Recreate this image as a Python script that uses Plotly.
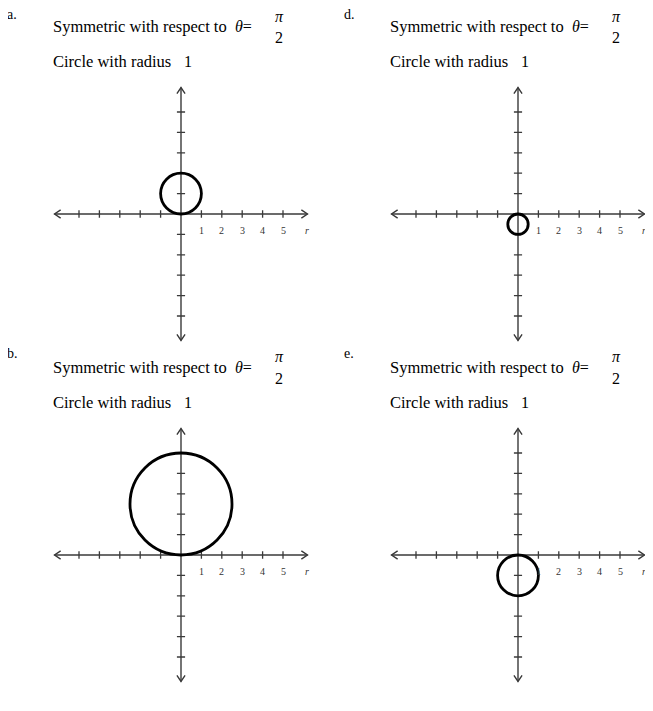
import plotly.graph_objects as go

# ---- data ----
panel_letters = ["a.", "d.", "b.", "e."]
# polar equations r = k * sin(theta) -> circles through the pole
sin_coefficients = [2, -1, 5, -2]
symmetry_text = "Symmetric with respect to"
radius_text = "Circle with radius"
radius_values = ["1", "1", "1", "1"]
tick_values = [-5, -4, -3, -2, -1, 1, 2, 3, 4, 5]
tick_labels_x = ["1", "2", "3", "4", "5"]
tick_label_pos = [1, 2, 3, 4, 5]
axis_extent = 6.2

# ---- layout geometry (pixels, page coords; page has an 8px body margin) ----
PAGE_OFF = 8
W, H = 653 - PAGE_OFF, 711 - PAGE_OFF
SCALE = 20.4  # px per unit
origins = [(181, 214), (518, 214), (181, 555), (518, 555)]
text_offsets = [(0, 0), (337, 0), (0, 340), (337, 340)]
XR = (-6.8, 6.6)
YR = (-6.8, 6.8)

fig = go.Figure()
annotations = []
shapes = []

def px(x, y):
    return (x - PAGE_OFF) / W, 1 - (y - PAGE_OFF) / H

serif = "Liberation Serif, Times New Roman, serif"

for i in range(4):
    ox, oy = origins[i]
    ox -= PAGE_OFF
    oy -= PAGE_OFF
    sfx = "" if i == 0 else str(i + 1)
    xa = "x" + sfx
    ya = "y" + sfx
    x0 = (ox + XR[0] * SCALE) / W
    x1 = min(1.0, (ox + XR[1] * SCALE) / W)
    ytop = 1 - (oy - YR[1] * SCALE) / H
    ybot = 1 - (oy - YR[0] * SCALE) / H
    xr1 = XR[0] + (x1 * W - (ox + XR[0] * SCALE)) / SCALE
    fig.layout["xaxis" + sfx] = dict(domain=[x0, x1], range=[XR[0], xr1], visible=False,
                                     anchor=ya, fixedrange=True)
    fig.layout["yaxis" + sfx] = dict(domain=[ybot, ytop], range=list(YR), visible=False,
                                     anchor=xa, fixedrange=True)

    e = axis_extent
    ax_col = "#3a3a3a"
    # axes lines
    fig.add_trace(go.Scatter(x=[-e, e, None, 0, 0], y=[0, 0, None, -e, e], mode="lines",
                             line=dict(color=ax_col, width=1.4), xaxis=xa, yaxis=ya,
                             hoverinfo="skip", showlegend=False, cliponaxis=False))
    # arrowheads
    ah, aw = 0.3, 0.2
    axs = [e - ah, e, e - ah, None, -e + ah, -e, -e + ah, None, -aw, 0, aw, None, -aw, 0, aw]
    ays = [aw, 0, -aw, None, aw, 0, -aw, None, e - ah, e, e - ah, None, -e + ah, -e, -e + ah]
    fig.add_trace(go.Scatter(x=axs, y=ays, mode="lines", line=dict(color=ax_col, width=1.4),
                             xaxis=xa, yaxis=ya, hoverinfo="skip", showlegend=False,
                             cliponaxis=False))
    # tick marks
    tx, ty = [], []
    for t in tick_values:
        tx += [t, t, None]
        ty += [-0.18, 0.18, None]
        tx += [-0.2, 0.2, None]
        ty += [t, t, None]
    fig.add_trace(go.Scatter(x=tx, y=ty, mode="lines", line=dict(color=ax_col, width=1.3),
                             xaxis=xa, yaxis=ya, hoverinfo="skip", showlegend=False))
    # circle r = k sin(theta): center (0, k/2), radius |k|/2
    k = sin_coefficients[i]
    c = k / 2
    rad = abs(k) / 2
    shapes.append(dict(type="circle", xref=xa, yref=ya, x0=-rad, x1=rad, y0=c - rad, y1=c + rad,
                       line=dict(color="black", width=2.8)))
    # tick labels
    for v, lab in zip(tick_label_pos, tick_labels_x):
        annotations.append(dict(x=v, y=-0.8, xref=xa, yref=ya, text=lab, showarrow=False,
                                font=dict(family=serif, size=10, color="#333")))
    annotations.append(dict(x=e, y=-0.8, xref=xa, yref=ya, text="<i>r</i>", showarrow=False,
                            font=dict(family=serif, size=10, color="#333")))

    # texts
    dx, dy = text_offsets[i]
    def add_text(x, y, text, size=16, xanchor="left"):
        ax_, ay_ = px(x + dx, y + dy)
        annotations.append(dict(x=ax_, y=ay_, xref="paper", yref="paper", text=text,
                                showarrow=False, xanchor=xanchor, yanchor="middle",
                                font=dict(family=serif, size=size, color="black")))
    add_text(5, 14, panel_letters[i], size=14)
    add_text(51, 27, symmetry_text, size=16.5)
    add_text(233, 27, "<i>θ</i>=")
    add_text(279, 16, "<i>π</i>", xanchor="center")
    add_text(279, 38, "2", xanchor="center")
    add_text(51, 62, radius_text, size=16.5)
    add_text(182, 62, radius_values[i])

fig.update_layout(width=W, height=H, margin=dict(l=0, r=0, t=0, b=0),
                  plot_bgcolor="white", paper_bgcolor="white",
                  annotations=annotations, shapes=shapes, showlegend=False)
fig.write_html("out.html")
